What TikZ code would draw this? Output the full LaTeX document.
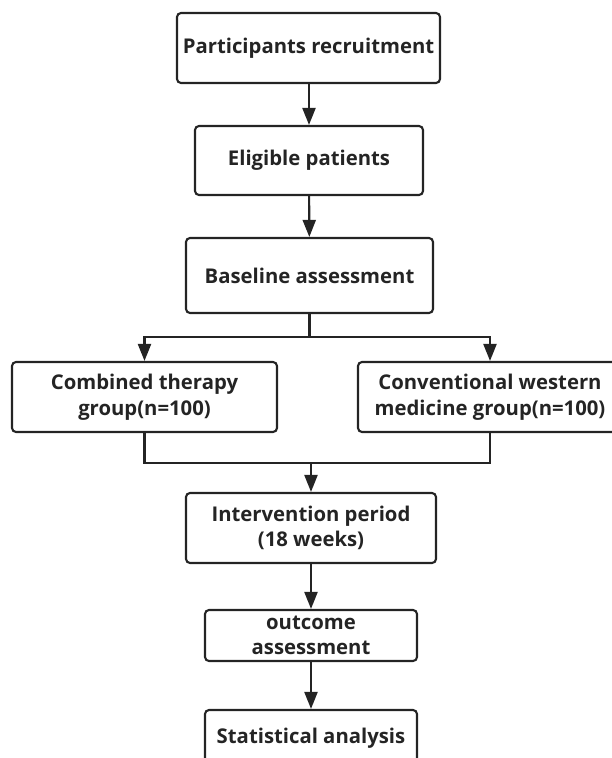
\documentclass[tikz,border=0pt]{standalone}
\usepackage{fontspec}
\setmainfont{Open Sans}
\usetikzlibrary{arrows.meta}
\definecolor{ink}{HTML}{242424}
\tikzset{
  box/.style={draw=ink, line width=2.1pt, rounded corners=4pt, align=center,
    inner sep=0pt, text=ink, font=\fontsize{20.3}{25.5}\selectfont\bfseries},
  link/.style={draw=ink, line width=2.1pt},
  arr/.style={link, -{Triangle[length=17pt,width=13pt]}}
}
\begin{document}
\begin{tikzpicture}[x=1pt,y=-1pt]
\useasboundingbox (0,0) rectangle (611,758);
\node[box, minimum width=263pt, minimum height=70pt] (b1) at (308.5,48) {Participants recruitment};
\node[box, minimum width=228pt, minimum height=69pt] (b2) at (309,160.5) {Eligible patients};
\node[box, minimum width=247pt, minimum height=75pt] (b3) at (309.5,275.5) {Baseline assessment};
\node[box, minimum width=265pt, minimum height=70pt] (L) at (144.5,397) {Combined therapy\\group(n=100)};
\node[box, minimum width=264pt, minimum height=70pt] (R) at (490,397) {Conventional western\\medicine group(n=100)};
\node[box, minimum width=250pt, minimum height=70pt] (I) at (311,528) {Intervention period\\(18 weeks)};
\node[box, minimum width=212pt, minimum height=51pt] (O) at (311,635.5) {outcome\\assessment};
\node[box, minimum width=212pt, minimum height=56pt] (S) at (311,738) {Statistical analysis};
\coordinate (sp) at (309.5,337);
\coordinate (mg) at (311,463);
\draw[arr] (b1.south -| b2.north) -- (b2.north);
\draw[arr] (b2) -- (b3);
\draw[link] (b3.south) -- (sp);
\draw[arr] (sp) -| (L.north);
\draw[arr] (sp) -| (R.north);
\draw[link] (L.south) |- (mg);
\draw[link] (R.south) |- (mg);
\draw[arr] (mg) -- (I.north);
\draw[arr] (I) -- (O);
\draw[arr] (O) -- (S);
\end{tikzpicture}
\end{document}
